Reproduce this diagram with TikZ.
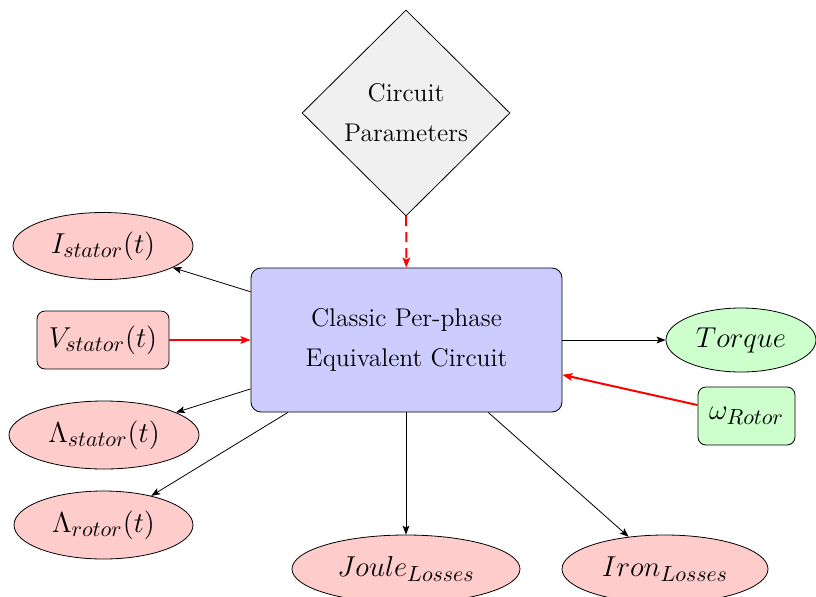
\documentclass[tikz,border=0pt]{standalone}
\usetikzlibrary{shapes.geometric,arrows.meta}

\definecolor{outpink}{RGB}{255,204,204}
\definecolor{ingreen}{RGB}{204,255,204}
\definecolor{coreblue}{RGB}{204,204,255}
\definecolor{paramgray}{RGB}{240,240,240}

\tikzset{
  tip/.style={-{Stealth[length=4.5pt,width=3.4pt,inset=1pt]}},
  flow/.style={tip, draw=black, line width=0.4pt},
  feed/.style={-{Stealth[length=5pt,width=3.8pt,inset=1pt]}, draw=red, line width=1pt},
  mathfont/.style={font=\fontsize{15}{18}\selectfont},
  outoval/.style={ellipse, draw=black, fill=outpink, inner sep=0pt, mathfont},
  inbox/.style={rectangle, rounded corners=4pt, draw=black, inner sep=0pt, mathfont},
  corebox/.style={rectangle, rounded corners=5pt, draw=black, fill=coreblue, inner sep=0pt,
    minimum width=155.5pt, minimum height=72pt, align=center, font=\fontsize{12.8}{15}\selectfont},
  parambox/.style={diamond, draw=black, fill=paramgray, inner sep=0pt,
    minimum width=104pt, minimum height=103pt, align=center, font=\fontsize{12.8}{15}\selectfont},
}

\begin{document}
\begin{tikzpicture}[x=0.5pt, y=-0.5pt]
  \useasboundingbox (0,0) rectangle (816,596);

  % central block and parameter input
  \node[corebox] (core) at (406.5,340) {Classic Per-phase\\[5pt]Equivalent Circuit};
  \node[parambox] (param) at (406,113) {Circuit\\[5pt]Parameters};

  % stator side
  \node[outoval, minimum width=90pt, minimum height=33.5pt] (istat) at (103,246) {$I_{stator}(t)$};
  \node[inbox, fill=outpink, minimum width=66pt, minimum height=29pt] (vstat) at (103,340) {$V_{stator}(t)$};
  \node[outoval, minimum width=95pt, minimum height=34pt] (lstat) at (104,435) {$\Lambda_{stator}(t)$};
  \node[outoval, minimum width=89.5pt, minimum height=34pt] (lrot) at (103.5,525) {$\Lambda_{rotor}(t)$};

  % losses
  \node[outoval, minimum width=114pt, minimum height=34pt] (joule) at (406,569) {$Joule_{Losses}$};
  \node[outoval, minimum width=103pt, minimum height=34pt] (iron) at (665,569) {$Iron_{Losses}$};

  % mechanical side
  \node[ellipse, draw=black, fill=ingreen, inner sep=0pt, font=\Large,
        minimum width=75pt, minimum height=32pt] (torque) at (741,340) {$Torque$};
  \node[inbox, fill=ingreen, minimum width=48.5pt, minimum height=29pt] (wrot) at (746.5,416) {$\omega_{Rotor}$};

  % connectors
  \draw[feed, dashed, dash pattern=on 5pt off 3pt] (param) -- (core);
  \draw[feed] (vstat) -- (core);
  \draw[feed] (wrot) -- (core);
  \draw[flow] (core) -- (istat);
  \draw[flow] (core) -- (lstat);
  \draw[flow] (core) -- (lrot);
  \draw[flow] (core.south -| joule) -- (joule);
  \draw[flow] (core) -- (iron);
  \draw[flow] (core) -- (torque);
\end{tikzpicture}
\end{document}
